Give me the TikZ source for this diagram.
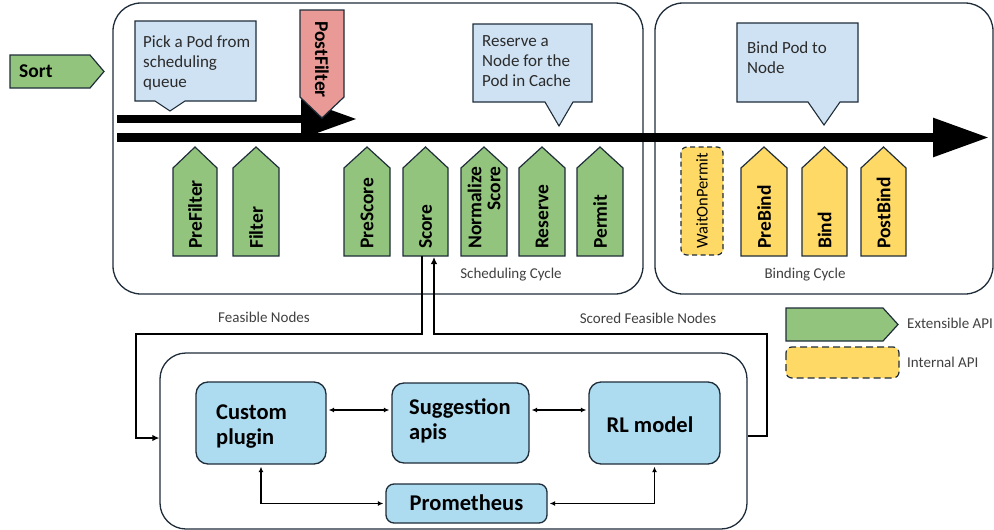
\documentclass[tikz,border=0pt]{standalone}
\usepackage{fontspec}
\setmainfont{Carlito}
\usetikzlibrary{arrows.meta}

\definecolor{edgecol}{HTML}{1F2D3A}
\definecolor{apigreen}{HTML}{93C47D}
\definecolor{apired}{HTML}{EA9A96}
\definecolor{apiyellow}{HTML}{FFD966}
\definecolor{notefill}{HTML}{CFE2F3}
\definecolor{compfill}{HTML}{ADDBF0}
\definecolor{notetextcol}{HTML}{2B2B2B}
\definecolor{labelgray}{HTML}{404040}

\newcommand\setfs[2]{\fontsize{#1pt}{#2pt}\selectfont}

\tikzset{
  cyclebox/.style={draw=edgecol, line width=1.3pt, rounded corners=28pt, fill=white, inner sep=0pt},
  notebox/.style={draw=edgecol, line width=1.1pt, fill=notefill},
  notetext/.style={inner sep=0pt, align=left, text=notetextcol, font=\setfs{17}{20}},
  block/.style={draw=edgecol, line width=1.2pt},
  blocktext/.style={inner sep=0pt, align=right, font=\bfseries\setfs{19.5}{19}},
  plaintext/.style={inner sep=0pt, align=right, font=\setfs{16.5}{18}},
  smalllabel/.style={inner sep=0pt, text=labelgray, font=\setfs{15}{17}},
  comp/.style={draw=edgecol, line width=1.3pt, fill=compfill, rounded corners=12pt, inner sep=0pt},
  comptext/.style={inner sep=0pt, align=left, font=\bfseries\setfs{22.5}{25}},
  flowline/.style={line width=8.5pt, -{Triangle[length=56pt,width=37pt]}},
  link/.style={line width=2.2pt},
  linkhead/.style={link, -{Latex[length=7pt,width=6.5pt]}},
  biarrow/.style={line width=1.1pt, shorten <=2pt, shorten >=2pt,
    {Latex[length=5.5pt,width=5pt]}-{Latex[length=5.5pt,width=5pt]}}
}

% an extension point drawn as an upward arrow block with rotated label
% #1 name, #2 left x, #3 right x, #4 fill, #5 text style, #6 label
\newcommand\upblock[6]{%
  \path[block, fill=#4] (#2,256) -- (#2,168) -- ({(#2+#3)/2},147) -- (#3,168) -- (#3,256) -- cycle;
  \coordinate (#1-base) at ({(#2+#3)/2},256);
  \node[#5, rotate=90, anchor=west] (#1) at ({(#2+#3)/2},249) {#6};}

\begin{document}
\begin{tikzpicture}[x=1pt, y=-1pt]
\useasboundingbox (0,0) rectangle (994,530);

% the two cycles
\node[cyclebox, minimum width=530pt, minimum height=291pt] (sched) at (378,148.5) {};
\node[cyclebox, minimum width=338pt, minimum height=291pt] (bindcyc) at (824,148.5) {};
\node[smalllabel] (schedlabel) at (511,275) {Scheduling Cycle};
\node[smalllabel] (bindlabel) at (805,275) {Binding Cycle};

% Sort entry point
\path[block, fill=apigreen] (10,55) -- (90,55) -- (104,71.5) -- (90,88) -- (10,88) -- cycle;
\node[blocktext, anchor=west] (sort) at (19,71.5) {Sort};

% callouts
\path[notebox] (135,21) -- (256,21) -- (256,101) -- (185,101) -- (170,111) -- (155,101) -- (135,101) -- cycle;
\node[notetext, anchor=north west] (picknote) at (143,35) {Pick a Pod from\\scheduling\\queue};

\path[notebox] (473,24) -- (592,24) -- (592,102) -- (573,102) -- (559,126) -- (545,102) -- (473,102) -- cycle;
\node[notetext, anchor=north west] (reservenote) at (482,35) {Reserve a\\Node for the\\Pod in Cache};

\path[notebox] (737,23) -- (858,23) -- (858,102) -- (840,102) -- (824,125) -- (808,102) -- (737,102) -- cycle;
\node[notetext, anchor=north west] (bindnote) at (747,41) {Bind Pod to\\Node};

% main flow arrows
\coordinate (retrystart) at (117,119);
\coordinate (retryend) at (357,119);
\coordinate (flowstart) at (117,137.5);
\coordinate (flowend) at (989,137.5);
\draw[flowline] (retrystart) -- (retryend);
\draw[flowline, line width=9pt] (flowstart) -- (flowend);

% PostFilter
\path[block, fill=apired] (300,10) -- (344,10) -- (344,97) -- (322,118) -- (300,97) -- cycle;
\node[blocktext, rotate=-90, anchor=west] (postfilter) at (322,21) {PostFilter};

% scheduling cycle extension points
\upblock{prefilter}{173}{217}{apigreen}{blocktext}{PreFilter}
\upblock{filter}{233}{279}{apigreen}{blocktext}{Filter}
\upblock{prescore}{344}{390}{apigreen}{blocktext}{PreScore}
\upblock{score}{403}{448}{apigreen}{blocktext}{Score}
\upblock{normscore}{461}{507}{apigreen}{blocktext}{Normalize\\Score}
\upblock{reserve}{519}{565}{apigreen}{blocktext}{Reserve}
\upblock{permit}{577}{623}{apigreen}{blocktext}{Permit}

% binding cycle
\path[block, dashed, dash pattern=on 5pt off 3.5pt, fill=apiyellow, rounded corners=6pt]
  (681,147) rectangle (723,255);
\node[plaintext, rotate=90, anchor=west] (waitonpermit) at (702,249) {WaitOnPermit};
\upblock{prebind}{741}{787}{apiyellow}{blocktext}{PreBind}
\upblock{bind}{802}{847}{apiyellow}{blocktext}{Bind}
\upblock{postbind}{861}{906}{apiyellow}{blocktext}{PostBind}

% scheduler extension
\node[cyclebox, rounded corners=26pt, minimum width=587pt, minimum height=176pt] (engine) at (453.5,441) {};
\node[comp, minimum width=130pt, minimum height=82pt] (custom) at (261,423) {};
\node[comptext, anchor=west] (customtext) at (216,427) {Custom\\plugin};
\node[comp, minimum width=137pt, minimum height=80pt] (suggest) at (460.5,423) {};
\node[comptext, anchor=west] (suggesttext) at (409,421) {Suggestion\\apis};
\node[comp, minimum width=131pt, minimum height=82pt] (rl) at (654.5,423) {};
\node[comptext] (rltext) at (650,425) {RL model};
\node[comp, rounded corners=8pt, minimum width=161pt, minimum height=39pt] (prom) at (466.5,503.5) {};
\node[comptext] (promtext) at (466.5,503) {Prometheus};

\draw[biarrow] ([yshift=13pt]custom.east) -- ([yshift=13pt]custom.east -| suggest.west);
\draw[biarrow] ([yshift=13pt]suggest.east) -- ([yshift=13pt]suggest.east -| rl.west);
\draw[biarrow] (custom.south) |- (prom.west);
\draw[biarrow] (rl.south) |- (prom.east);

% data exchanged with the Score plugin
\coordinate (feasturn) at (136,334);
\coordinate (scoredturn) at (767,334);
\draw[linkhead] ([xshift=-3.5pt]score-base) |- (feasturn) |- ([yshift=3pt]engine.west);
\draw[linkhead] ([yshift=5pt]engine.east) -| (scoredturn) -| ([xshift=8.5pt,yshift=-1pt]score-base);
\node[smalllabel] (feaslabel) at (264,317) {Feasible Nodes};
\node[smalllabel] (scoredlabel) at (648,318) {Scored Feasible Nodes};

% legend
\path[block, fill=apigreen] (786,308) -- (883,308) -- (898,324.5) -- (883,341) -- (786,341) -- cycle;
\node[smalllabel, anchor=west] (extlabel) at (907,323) {Extensible API};
\path[block, dashed, dash pattern=on 7pt off 4pt, fill=apiyellow, rounded corners=6pt]
  (786,347) rectangle (899,378);
\node[smalllabel, anchor=west] (intlabel) at (907,362) {Internal API};
\end{tikzpicture}
\end{document}
